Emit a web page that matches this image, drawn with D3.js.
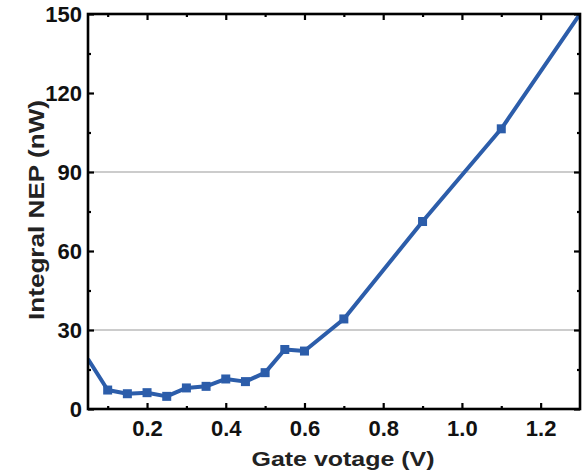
<!DOCTYPE html>
<html>
<head>
<meta charset="utf-8">
<script src="https://cdn.jsdelivr.net/npm/d3@7/dist/d3.min.js"></script>
<style>
  html, body { margin: 0; padding: 0; background: #fff; }
  svg { display: block; }
  text { font-family: "Liberation Sans", Arial, sans-serif; font-weight: bold; }
</style>
</head>
<body>
<svg id="chart" width="585" height="475"></svg>
<script>
// Gate voltage sweep (V) and integral NEP (nW)
const gateVoltage = [0.05, 0.10, 0.15, 0.20, 0.25, 0.30, 0.35, 0.40, 0.45, 0.50, 0.55, 0.60, 0.70, 0.90, 1.10, 1.30];
const nep         = [19.0, 7.2, 5.8, 6.2, 4.8, 8.0, 8.6, 11.4, 10.4, 13.8, 22.6, 22.0, 34.2, 71.2, 106.4, 150.0];

const xTicks = [0.2, 0.4, 0.6, 0.8, 1.0, 1.2];
const xMinorTicks = [0.1, 0.3, 0.5, 0.7, 0.9, 1.1];
const yTicks = [0, 30, 60, 90, 120, 150];
const yMinorTicks = [15, 45, 75, 105, 135];
const gridValues = [30, 90];

const margin = { left: 88, top: 14, right: 5, bottom: 66 };
const W = 585, H = 475;
const pw = W - margin.left - margin.right;
const ph = H - margin.top - margin.bottom;

const svg = d3.select("#chart");
const x = d3.scaleLinear().domain([0.05, 1.3]).range([margin.left, margin.left + pw]);
const y = d3.scaleLinear().domain([0, 150]).range([margin.top + ph, margin.top]);

const lineColor = "#2c5daa";

svg.append("defs").append("clipPath").attr("id", "plotClip")
  .append("rect").attr("x", margin.left).attr("y", margin.top).attr("width", pw).attr("height", ph);

// horizontal reference lines
svg.append("g").selectAll("line").data(gridValues).join("line")
  .attr("x1", margin.left).attr("x2", margin.left + pw)
  .attr("y1", d => y(d)).attr("y2", d => y(d))
  .attr("stroke", "#9a9a9a").attr("stroke-width", 1.2);

// data line and markers
const pts = gateVoltage.map((v, i) => ({ v, n: nep[i] }));
const plot = svg.append("g").attr("clip-path", "url(#plotClip)");
plot.append("path").datum(pts)
  .attr("fill", "none").attr("stroke", lineColor).attr("stroke-width", 4)
  .attr("stroke-linejoin", "round")
  .attr("d", d3.line().x(d => x(d.v)).y(d => y(d.n)));

const [x0, x1] = x.domain();
const ms = 9;
plot.selectAll("rect.m").data(pts.filter(d => d.v > x0 && d.v < x1)).join("rect")
  .attr("class", "m")
  .attr("x", d => x(d.v) - ms / 2).attr("y", d => y(d.n) - ms / 2)
  .attr("width", ms).attr("height", ms)
  .attr("fill", lineColor);

// axes with inward ticks on all four sides
function styleAxis(g) {
  g.select(".domain").remove();
  g.selectAll(".tick line").attr("stroke", "#000").attr("stroke-width", 2.2);
}

const axisBottomG = svg.append("g").attr("transform", `translate(0,${margin.top + ph})`)
  .call(d3.axisBottom(x).tickValues(xTicks).tickSize(-6).tickPadding(11).tickFormat(d3.format(".1f")));
styleAxis(axisBottomG);
axisBottomG.selectAll("text").attr("font-size", 22).attr("fill", "#111");
svg.append("g").attr("transform", `translate(0,${margin.top + ph})`)
  .call(d3.axisBottom(x).tickValues(xMinorTicks).tickSize(-3).tickFormat(""))
  .call(styleAxis);

svg.append("g").attr("transform", `translate(0,${margin.top})`)
  .call(d3.axisTop(x).tickValues(xTicks).tickSize(-6).tickFormat(""))
  .call(styleAxis);
svg.append("g").attr("transform", `translate(0,${margin.top})`)
  .call(d3.axisTop(x).tickValues(xMinorTicks).tickSize(-3).tickFormat(""))
  .call(styleAxis);

const axisLeftG = svg.append("g").attr("transform", `translate(${margin.left},0)`)
  .call(d3.axisLeft(y).tickValues(yTicks).tickSize(-6).tickPadding(6).tickFormat(d3.format("d")));
styleAxis(axisLeftG);
axisLeftG.selectAll("text").attr("font-size", 22).attr("fill", "#111");
svg.append("g").attr("transform", `translate(${margin.left},0)`)
  .call(d3.axisLeft(y).tickValues(yMinorTicks).tickSize(-3).tickFormat(""))
  .call(styleAxis);

svg.append("g").attr("transform", `translate(${margin.left + pw},0)`)
  .call(d3.axisRight(y).tickValues(yTicks).tickSize(-6).tickFormat(""))
  .call(styleAxis);
svg.append("g").attr("transform", `translate(${margin.left + pw},0)`)
  .call(d3.axisRight(y).tickValues(yMinorTicks).tickSize(-3).tickFormat(""))
  .call(styleAxis);

// plot frame
svg.append("rect")
  .attr("x", margin.left).attr("y", margin.top).attr("width", pw).attr("height", ph)
  .attr("fill", "none").attr("stroke", "#000").attr("stroke-width", 2.6);

// axis titles
svg.append("text")
  .attr("x", 343).attr("y", 466)
  .attr("text-anchor", "middle").attr("font-size", 21).attr("fill", "#222")
  .attr("textLength", 183).attr("lengthAdjust", "spacingAndGlyphs")
  .text("Gate votage (V)");

svg.append("text")
  .attr("transform", `translate(44,210) rotate(-90)`)
  .attr("text-anchor", "middle").attr("font-size", 22).attr("fill", "#222")
  .attr("textLength", 220).attr("lengthAdjust", "spacingAndGlyphs")
  .text("Integral NEP (nW)");
</script>
</body>
</html>
